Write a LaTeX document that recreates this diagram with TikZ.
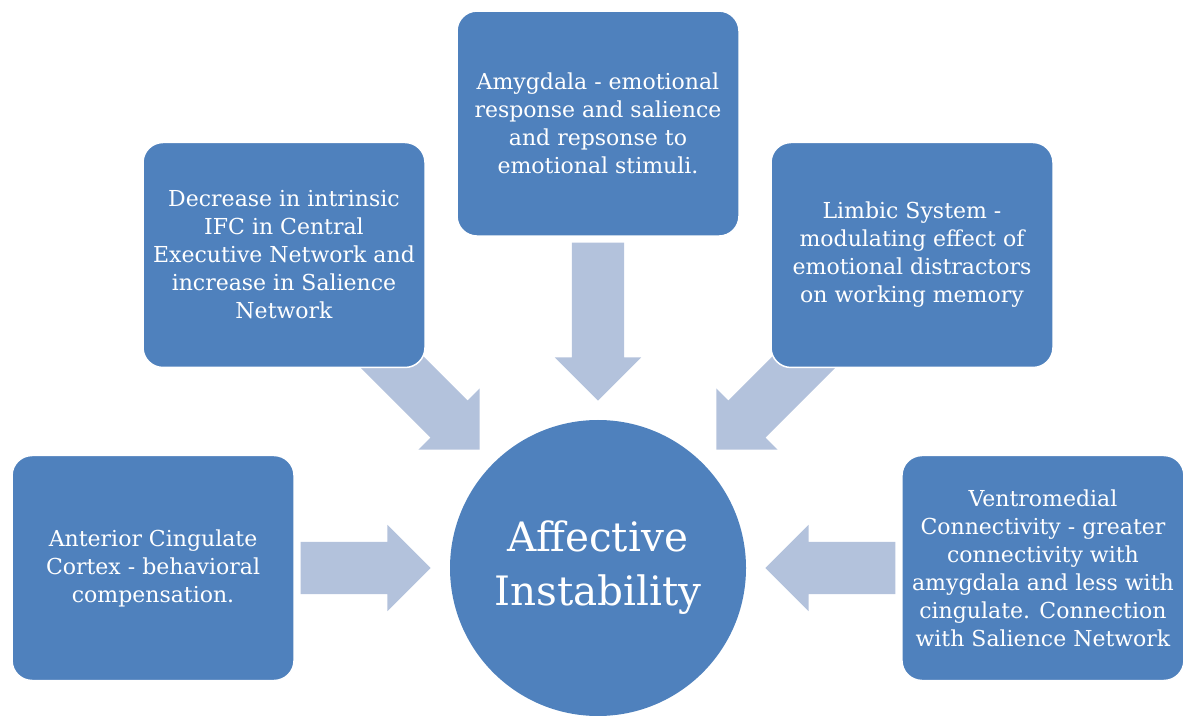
\documentclass[tikz,border=0pt]{standalone}
\usepackage{fontspec}
\setmainfont{DejaVu Serif}
\usetikzlibrary{positioning, shapes.arrows}
\definecolor{boxblue}{HTML}{4F81BD}
\definecolor{arrowblue}{HTML}{B3C2DC}
\tikzset{
    topic/.style = {
      fill=boxblue, draw=white, line width=1.5pt, rounded corners=20pt,
      minimum width=282pt, minimum height=225pt, inner sep=4pt,
      align=center, text=white, font=\fontsize{22}{28}\selectfont,
    },
    hub/.style = {
      circle, fill=boxblue, minimum size=296pt, inner sep=0,
      align=center, text=white, font=\fontsize{40.5}{54}\selectfont,
    },
    push/.style = {
      single arrow, fill=arrowblue, draw=none, inner xsep=0, inner ysep=26pt,
      single arrow head extend=17pt, single arrow head indent=0pt, anchor=tip,
    },
}

\begin{document}
\begin{tikzpicture}[x=1pt, y=1pt]
    \useasboundingbox (0,0) rectangle (1183,715);

    %% The central circle
    \node [hub] (hub) at (598,147) {Affective\\Instability};

    %% Block arrows pointing at the circle
    \node [push, minimum height=158pt, rotate=-90] (a_top)
          at ([yshift=19pt] hub.north) {};
    \node [push, minimum height=130pt] (a_left)
          at ([xshift=-19pt] hub.west) {};
    \node [push, minimum height=130pt, rotate=180] (a_right)
          at ([xshift=19pt] hub.east) {};
    \node [push, minimum height=175pt, rotate=-45] (a_upleft)
          at ([shift={(135:19pt)}] hub.135) {};
    \node [push, minimum height=175pt, rotate=-135] (a_upright)
          at ([shift={(45:19pt)}] hub.45) {};

    %% The five topic boxes
    \node [topic, above=183pt of hub] (amygdala)
          {Amygdala - emotional\\response and salience\\and repsonse to\\emotional stimuli.};
    \node [topic] (networks) at ([xshift=-314pt, yshift=313pt] hub.center)
          {Decrease in intrinsic\\IFC in Central\\Executive Network and\\increase in Salience\\Network};
    \node [topic] (limbic) at ([xshift=314pt, yshift=313pt] hub.center)
          {Limbic System -\\modulating effect of\\emotional distractors\\on working memory};
    \node [topic, left=155pt of hub] (cingulate)
          {Anterior Cingulate\\Cortex - behavioral\\compensation.};
    \node [topic, right=155pt of hub] (ventro)
          {Ventromedial\\Connectivity - greater\\connectivity with\\amygdala and less with\\cingulate. Connection\\with Salience Network};
\end{tikzpicture}
\end{document}
